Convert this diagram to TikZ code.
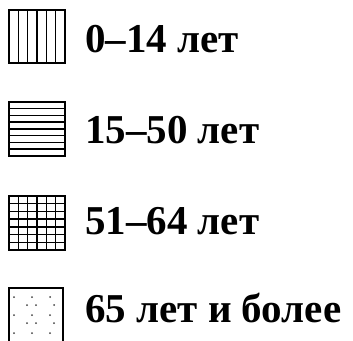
\documentclass[tikz,border=0pt]{standalone}
\usepackage{fontspec}
\setmainfont{Liberation Serif}
\begin{document}
\begin{tikzpicture}[x=1pt,y=1pt,
  frame/.style={draw=black, line width=1.6pt},
  hatch/.style={draw=black, line width=1.5pt},
  dotm/.style={fill=black!75},
  lbl/.style={anchor=base west, inner sep=0pt, font=\fontsize{41}{46}\selectfont\bfseries}]
\useasboundingbox (0,0) rectangle (353,340);
% box 1: vertical lines
\foreach \i in {1,...,5} \draw[hatch] ({9+\i*56/6},277) -- ({9+\i*56/6},330);
\node[frame, minimum width=56pt, minimum height=53pt, inner sep=0pt] (b1) at (37,303.5) {};
% box 2: horizontal lines
\foreach \i in {1,...,7} \draw[hatch] (9,{184+\i*54/8}) -- (65,{184+\i*54/8});
\node[frame, minimum width=56pt, minimum height=54pt, inner sep=0pt] (b2) at (37,211) {};
% box 3: grid
\foreach \i in {1,...,5} \draw[hatch] ({9+\i*56/6},90) -- ({9+\i*56/6},144);
\foreach \i in {1,...,6} \draw[hatch] (9,{90+\i*54/7}) -- (65,{90+\i*54/7});
\node[frame, minimum width=56pt, minimum height=54pt, inner sep=0pt] (b3) at (37,117) {};
% box 4: dots
\foreach \y in {43,25,7} \foreach \x in {14,32,50} \fill[dotm] (\x,\y) circle (1pt);
\foreach \y in {35,17} \foreach \x in {27,36,54} \fill[dotm] (\x,\y) circle (1pt);
\node[frame, minimum width=54pt, minimum height=54pt, inner sep=0pt] (b4) at (36,25) {};
% labels
\node[lbl] (t1) at (85,287) {0–14 лет};
\node[lbl] (t2) at (85,196) {15–50 лет};
\node[lbl] (t3) at (85,105) {51–64 лет};
\node[lbl] (t4) at (85,18) {65 лет и более};
\end{tikzpicture}
\end{document}
